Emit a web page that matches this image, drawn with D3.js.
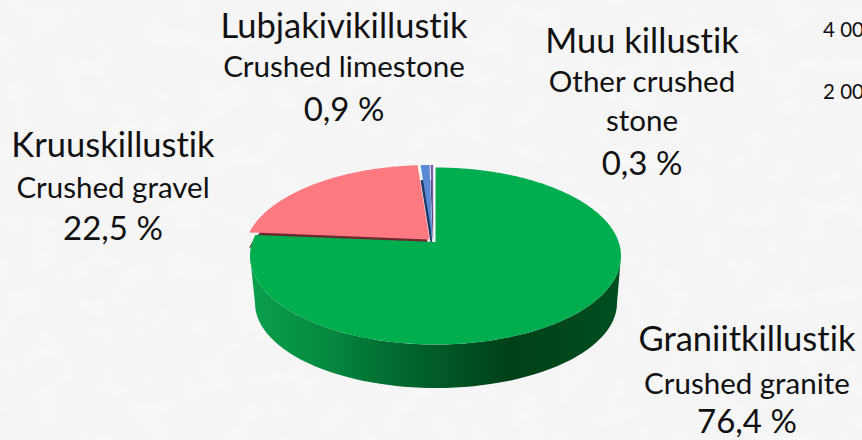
<!DOCTYPE html>
<html lang="en">
<head>
<meta charset="UTF-8" />
<title>Killustik</title>
<script src="https://d3js.org/d3.v7.min.js"></script>
<style>
  * { margin: 0; padding: 0; }
  html, body { width: 862px; height: 440px; overflow: hidden; background: #f5f5f6; }
  svg { display: block; }
  text { font-family: Lato, sans-serif; fill: #111; text-anchor: middle; font-variant-ligatures: none; }
</style>
</head>
<body>
<svg width="862" height="440"></svg>
<script>
// Data
var names = ["Graniitkillustik", "Kruuskillustik", "Lubjakivikillustik", "Muu killustik"];
var namesEn = ["Crushed granite", "Crushed gravel", "Crushed limestone", "Other crushed stone"];
var shares = [76.4, 22.5, 0.9, 0.3];
var tickLabels = ["4 000", "2 000"];

var topColors = ["#00ae50", "#ff7a80", "#5a8ad6", "#7a5cab"];
var wallColors = ["none", "#6c2a31", "#1f3864", "#3f2d5c"];
// slice pulled out of the pie, in px
var offsets = [[0, 0], [-6, -2.5], [-3, -2.5], [-2, -2.5]];
var wallDepth = 15;

var svg = d3.select("svg");
var width = 862, height = 440;

// faint mottled background
var defs = svg.append("defs");
var noise = defs.append("filter").attr("id", "mottle")
    .attr("x", 0).attr("y", 0).attr("width", "100%").attr("height", "100%");
noise.append("feTurbulence").attr("type", "fractalNoise")
    .attr("baseFrequency", 0.035).attr("numOctaves", 4).attr("seed", 7);
noise.append("feColorMatrix").attr("type", "matrix")
    .attr("values", "0 0 0 0 1  0 0 0 0 1  0 0 0 0 1  0 0 0 1.6 -0.8");
svg.append("rect").attr("width", width).attr("height", height).attr("fill", "#f5f5f6");
svg.append("rect").attr("width", width).attr("height", height).attr("filter", "url(#mottle)").attr("opacity", 0.5);

// top face and bottom rim of the 3D disc
var x = d3.scaleLinear().domain([-1, 1]).range([250, 621]);
var y = d3.scaleLinear().domain([-1, 1]).range([167.5, 344.5]);
var xBottom = d3.scaleLinear().domain([-1, 1]).range([255, 617]);
var yBottom = d3.scaleLinear().domain([-1, 1]).range([218, 388]);

// perspective moves the pie centre up from the centre of the ellipse
var k = -0.158;
function project(angle) {
    var u = Math.sin(angle), v = -Math.cos(angle);
    var w = 1 + k * v;
    return [u * Math.sqrt(1 - k * k) / w, (v + k) / w];
}

var pie = d3.pie().sort(null).value(function(d) { return d; });
var arcs = pie(shares);
var line = d3.line();

function slicePoints(d, dx, dy) {
    var n = Math.max(4, Math.ceil((d.endAngle - d.startAngle) * 60));
    var pts = [[x(0) + dx, y(k) + dy]];
    d3.range(n + 1).forEach(function(i) {
        var p = project(d.startAngle + (d.endAngle - d.startAngle) * i / n);
        pts.push([x(p[0]) + dx, y(p[1]) + dy]);
    });
    return pts;
}

// walls of the pulled out slices
[1, 2, 3].forEach(function(i) {
    svg.append("path")
        .attr("d", line(slicePoints(arcs[i], offsets[i][0], offsets[i][1] + wallDepth)) + "Z")
        .attr("fill", wallColors[i]);
});
[1, 2, 3].forEach(function(i) {
    svg.append("path")
        .attr("d", line(slicePoints(arcs[i], offsets[i][0], offsets[i][1])) + "Z")
        .attr("fill", topColors[i]);
});

// white sliver left of the green slice
svg.append("line")
    .attr("x1", x(0) - 1).attr("x2", x(0) - 1)
    .attr("y1", y(-1) - 2).attr("y2", y(k))
    .attr("stroke", "#ffffff").attr("stroke-width", 2.4);

// green wall
var grad = defs.append("linearGradient").attr("id", "wall")
    .attr("gradientUnits", "userSpaceOnUse")
    .attr("x1", 250).attr("x2", 621).attr("y1", 0).attr("y2", 0);
[[0, "#0aa04c"], [0.2, "#058a40"], [0.4, "#02692f"], [0.7, "#004019"], [1, "#004f20"]].forEach(function(s) {
    grad.append("stop").attr("offset", s[0]).attr("stop-color", s[1]);
});
var lower = d3.range(0, 61).map(function(i) {
    var t = Math.PI * i / 60;
    return [xBottom(Math.cos(t)), yBottom(Math.sin(t))];
});
var upper = d3.range(60, -1, -1).map(function(i) {
    var t = Math.PI * i / 60;
    return [x(Math.cos(t)), y(Math.sin(t))];
});
svg.append("path").attr("d", line(lower.concat(upper)) + "Z").attr("fill", "url(#wall)");

// green top
svg.append("path").attr("d", line(slicePoints(arcs[0], 0, 0)) + "Z").attr("fill", topColors[0]);

// labels
function pct(v) { return String(v).replace(".", ",") + " %"; }
var bigFont = 34.5, smallFont = 29.5, pctFont = 33;

function label(cx, rows) {
    rows.forEach(function(r) {
        svg.append("text").attr("x", cx).attr("y", r[1]).attr("font-size", r[2]).text(r[0]);
    });
}
label(747, [[names[0], 351, bigFont], [namesEn[0], 394, smallFont], [pct(shares[0]), 433, pctFont]]);
label(113, [[names[1], 157, bigFont], [namesEn[1], 198, smallFont], [pct(shares[1]), 240, pctFont]]);
label(344, [[names[2], 38, bigFont], [namesEn[2], 77, smallFont], [pct(shares[2]), 121, pctFont]]);
var otherWords = namesEn[3].split(" ");
label(642, [[names[3], 53, bigFont], [otherWords[0] + " " + otherWords[1], 92, smallFont],
    [otherWords[2], 131, smallFont], [pct(shares[3]), 175, pctFont]]);

// axis ticks of the neighbouring chart, cut by the window edge
svg.selectAll(".tick-label").data(tickLabels).enter().append("text")
    .attr("class", "tick-label")
    .attr("x", 823)
    .attr("y", function(d, i) { return 37 + i * 62; })
    .attr("font-size", 20.5)
    .style("text-anchor", "start")
    .text(function(d) { return d; });
</script>
</body>
</html>
